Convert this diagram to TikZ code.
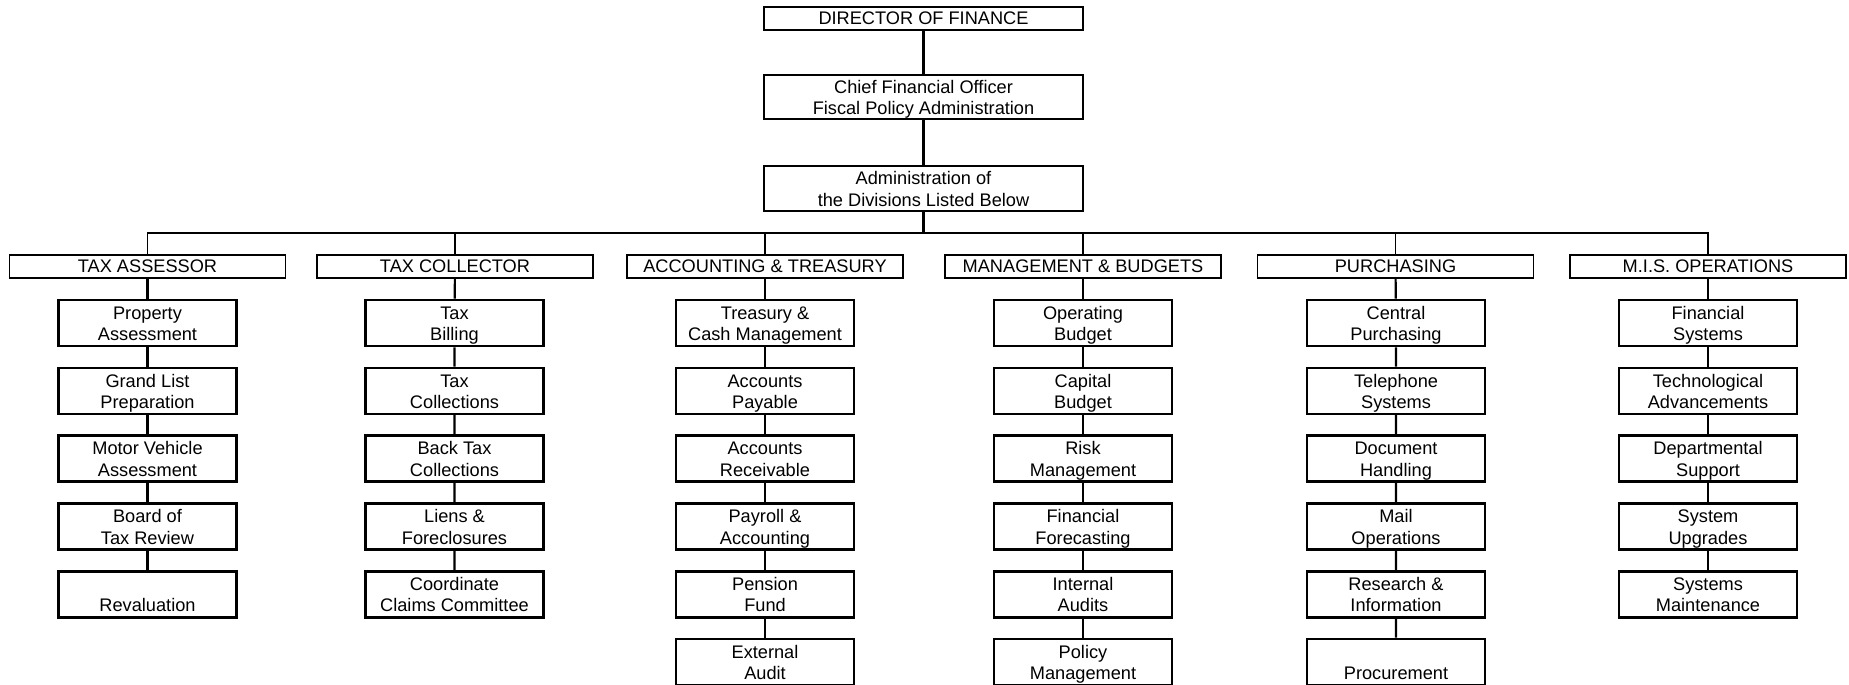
\documentclass[tikz,border=0pt]{standalone}
\usepackage{fontspec}
\setmainfont{Liberation Sans}
\tikzset{
  oneline/.style={text height=6.7pt,text depth=1pt},
  twoline/.style={text height=17.7pt,text depth=0pt},
  topbox/.style={draw,line width=1.1pt,minimum width=159.5pt,inner sep=0pt,align=center},
  divbox/.style={draw,line width=0.8pt,minimum width=138pt,minimum height=11.5pt,inner sep=0pt,oneline},
  unitbox/.style={draw,line width=1.3pt,minimum width=89pt,minimum height=23pt,inner sep=0pt,align=center,twoline},
  link/.style={line width=1.1pt},
}
\begin{document}
\begin{tikzpicture}[x=0.5pt,y=-0.5pt,font=\fontsize{9.1}{10.7}\selectfont]
\useasboundingbox (0,0) rectangle (1849,685);

% top of the chart
\node[topbox,oneline,minimum height=11.5pt] (dir) at (923.5,18.5) {DIRECTOR OF FINANCE};
\node[topbox,twoline,minimum height=22pt] (cfo) at (923.5,97) {Chief Financial Officer\\Fiscal Policy Administration};
\node[topbox,twoline,minimum height=22.5pt] (adm) at (923.5,188.5) {Administration of\\the Divisions Listed Below};
\coordinate (bus) at (923.5,233);

% divisions
\node[divbox] (ta) at (147.5,266.5) {TAX ASSESSOR};
\node[divbox] (tc) at (455,266.5) {TAX COLLECTOR};
\node[divbox] (at) at (765,266.5) {ACCOUNTING \& TREASURY};
\node[divbox] (mb) at (1083,266.5) {MANAGEMENT \& BUDGETS};
\node[divbox] (pu) at (1395.5,266.5) {PURCHASING};
\node[divbox] (mis) at (1708,266.5) {M.I.S. OPERATIONS};

% tax assessor
\node[unitbox] (ta1) at (147.5,323) {Property\\Assessment};
\node[unitbox] (ta2) at (147.5,390.8) {Grand List\\Preparation};
\node[unitbox] (ta3) at (147.5,458.6) {Motor Vehicle\\Assessment};
\node[unitbox] (ta4) at (147.5,526.4) {Board of\\Tax Review};
\node[unitbox] (ta5) at (147.5,594.2) {\strut\\Revaluation};

% tax collector
\node[unitbox] (tc1) at (454.5,323) {Tax\\Billing};
\node[unitbox] (tc2) at (454.5,390.8) {Tax\\Collections};
\node[unitbox] (tc3) at (454.5,458.6) {Back Tax\\Collections};
\node[unitbox] (tc4) at (454.5,526.4) {Liens \&\\Foreclosures};
\node[unitbox] (tc5) at (454.5,594.2) {Coordinate\\Claims Committee};

% accounting & treasury
\node[unitbox] (at1) at (765,323) {Treasury \&\\Cash Management};
\node[unitbox] (at2) at (765,390.8) {Accounts\\Payable};
\node[unitbox] (at3) at (765,458.6) {Accounts\\Receivable};
\node[unitbox] (at4) at (765,526.4) {Payroll \&\\Accounting};
\node[unitbox] (at5) at (765,594.2) {Pension\\Fund};
\node[unitbox] (at6) at (765,662) {External\\Audit};

% management & budgets
\node[unitbox] (mb1) at (1083,323) {Operating\\Budget};
\node[unitbox] (mb2) at (1083,390.8) {Capital\\Budget};
\node[unitbox] (mb3) at (1083,458.6) {Risk\\Management};
\node[unitbox] (mb4) at (1083,526.4) {Financial\\Forecasting};
\node[unitbox] (mb5) at (1083,594.2) {Internal\\Audits};
\node[unitbox] (mb6) at (1083,662) {Policy\\Management};

% purchasing
\node[unitbox] (pu1) at (1396,323) {Central\\Purchasing};
\node[unitbox] (pu2) at (1396,390.8) {Telephone\\Systems};
\node[unitbox] (pu3) at (1396,458.6) {Document\\Handling};
\node[unitbox] (pu4) at (1396,526.4) {Mail\\Operations};
\node[unitbox] (pu5) at (1396,594.2) {Research \&\\Information};
\node[unitbox] (pu6) at (1396,662) {\strut\\Procurement};

% m.i.s. operations
\node[unitbox] (mis1) at (1708,323) {Financial\\Systems};
\node[unitbox] (mis2) at (1708,390.8) {Technological\\Advancements};
\node[unitbox] (mis3) at (1708,458.6) {Departmental\\Support};
\node[unitbox] (mis4) at (1708,526.4) {System\\Upgrades};
\node[unitbox] (mis5) at (1708,594.2) {Systems\\Maintenance};

% connectors
\draw[link] (dir) -- (cfo) -- (adm) -- (bus);
\draw[line width=0.9pt] (bus) -| (ta.north);
\draw[line width=0.9pt] (bus) -| (tc.north);
\draw[line width=0.9pt] (bus) -| (at.north);
\draw[line width=0.9pt] (bus) -| (mb.north);
\draw[line width=0.9pt] (bus) -| (pu.north);
\draw[line width=0.9pt] (bus) -| (mis.north);
\draw[link] (ta) -- (ta1) -- (ta2) -- (ta3) -- (ta4) -- (ta5);
\draw[link] (tc) -- (tc1) -- (tc2) -- (tc3) -- (tc4) -- (tc5);
\draw[link] (at) -- (at1) -- (at2) -- (at3) -- (at4) -- (at5) -- (at6);
\draw[link] (mb) -- (mb1) -- (mb2) -- (mb3) -- (mb4) -- (mb5) -- (mb6);
\draw[link] (pu) -- (pu1) -- (pu2) -- (pu3) -- (pu4) -- (pu5) -- (pu6);
\draw[link] (mis) -- (mis1) -- (mis2) -- (mis3) -- (mis4) -- (mis5);
\end{tikzpicture}
\end{document}
